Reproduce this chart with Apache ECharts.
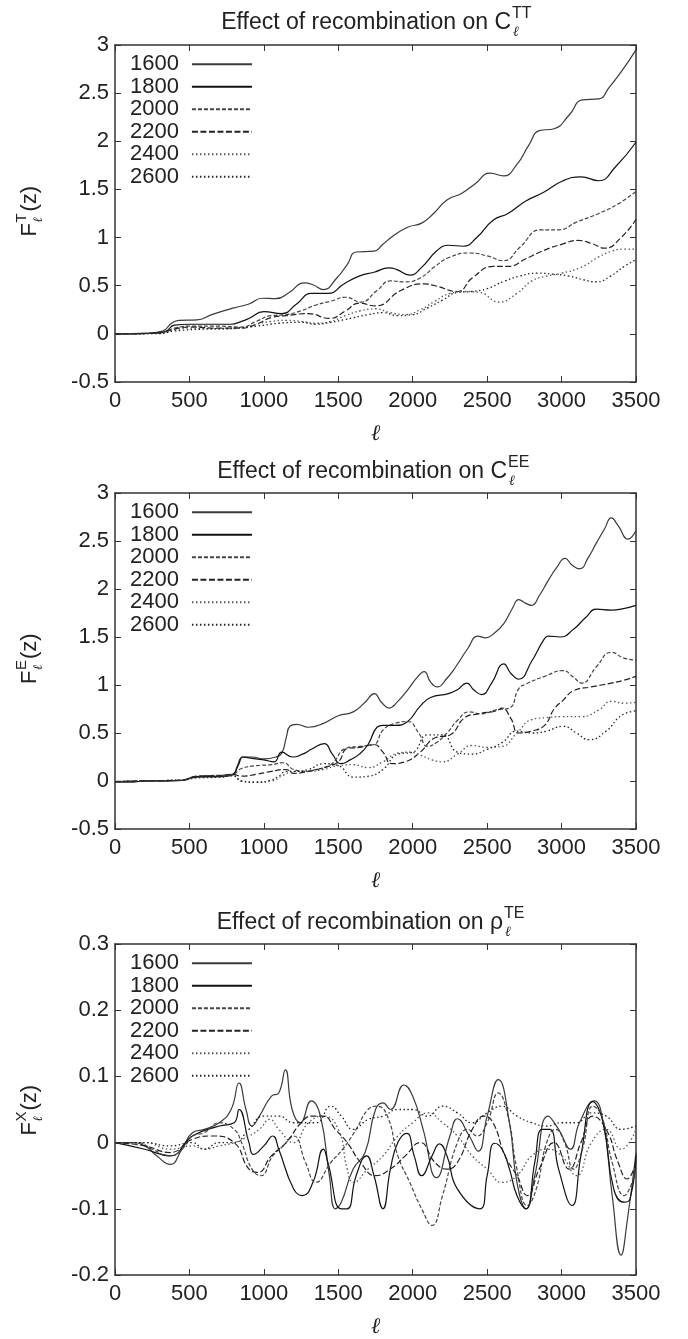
<!DOCTYPE html>
<html><head><meta charset="utf-8">
<script src="https://cdn.jsdelivr.net/npm/echarts@6/dist/echarts.min.js"></script>
<style>html,body{margin:0;padding:0;background:#fff}#c{width:688px;height:1339px}</style>
</head><body><div id="c"></div>
<script>
const NAMES = ['1600','1800','2000','2200','2400','2600'];
const X_MIN = 0, X_MAX = 3500, X_STEP = 500;

// Panel 1: C_l^TT
const TT_1600 = [[0,0],[200,0.005],[320,0.03],[380,0.11],[430,0.14],[550,0.145],[650,0.2],[800,0.27],[900,0.31],[990,0.37],[1080,0.365],[1170,0.43],[1270,0.53],[1330,0.51],[1400,0.46],[1490,0.58],[1560,0.72],[1620,0.85],[1740,0.86],[1800,0.93],[1870,1.02],[1970,1.11],[2060,1.15],[2140,1.25],[2230,1.39],[2330,1.46],[2420,1.56],[2520,1.67],[2610,1.64],[2700,1.76],[2780,1.96],[2850,2.11],[2950,2.13],[3050,2.27],[3140,2.43],[3250,2.44],[3320,2.56],[3400,2.72],[3500,2.95]];
const TT_1800 = [[0,0],[200,0.003],[330,0.02],[400,0.09],[500,0.1],[600,0.1],[780,0.1],[850,0.13],[900,0.16],[1000,0.23],[1120,0.21],[1220,0.31],[1320,0.42],[1430,0.42],[1540,0.52],[1640,0.6],[1740,0.64],[1840,0.685],[1890,0.67],[1980,0.61],[2060,0.69],[2160,0.86],[2240,0.92],[2340,0.91],[2430,1.0],[2540,1.18],[2640,1.25],[2760,1.38],[2880,1.47],[3010,1.59],[3130,1.63],[3250,1.59],[3360,1.73],[3500,1.99]];
const TT_2000 = [[0,0],[300,0.01],[400,0.06],[500,0.08],[700,0.08],[850,0.07],[950,0.13],[1050,0.19],[1150,0.2],[1250,0.24],[1350,0.3],[1450,0.34],[1550,0.38],[1650,0.33],[1760,0.45],[1850,0.55],[1950,0.54],[2050,0.58],[2150,0.7],[2240,0.79],[2380,0.84],[2500,0.81],[2610,0.76],[2720,0.9],[2860,1.08],[2980,1.08],[3100,1.16],[3250,1.25],[3380,1.35],[3500,1.48]];
const TT_2200 = [[0,0],[300,0.01],[400,0.05],[500,0.07],[700,0.06],[850,0.06],[950,0.1],[1050,0.17],[1150,0.19],[1300,0.21],[1440,0.16],[1550,0.24],[1640,0.32],[1750,0.29],[1920,0.45],[2070,0.52],[2150,0.5],[2300,0.44],[2400,0.58],[2540,0.7],[2640,0.7],[2760,0.78],[2886,0.87],[3000,0.93],[3110,0.97],[3200,0.94],[3290,0.89],[3400,1.0],[3500,1.19]];
const TT_2400 = [[0,0],[300,0.005],[400,0.04],[500,0.06],[700,0.05],[850,0.06],[950,0.1],[1050,0.13],[1150,0.14],[1250,0.13],[1350,0.11],[1450,0.13],[1550,0.19],[1650,0.24],[1750,0.26],[1850,0.22],[1950,0.2],[2050,0.25],[2150,0.34],[2250,0.42],[2350,0.44],[2450,0.43],[2580,0.33],[2700,0.42],[2800,0.55],[2900,0.6],[3000,0.63],[3130,0.69],[3250,0.8],[3340,0.86],[3420,0.88],[3500,0.88]];
const TT_2600 = [[0,0],[300,0.003],[400,0.03],[600,0.05],[800,0.06],[950,0.08],[1100,0.11],[1250,0.12],[1350,0.1],[1450,0.12],[1550,0.15],[1700,0.2],[1800,0.22],[1900,0.19],[2000,0.2],[2100,0.27],[2200,0.35],[2300,0.43],[2400,0.44],[2500,0.47],[2620,0.55],[2720,0.6],[2836,0.63],[2940,0.62],[3050,0.6],[3150,0.56],[3234,0.54],[3330,0.6],[3420,0.7],[3500,0.77]];

// Panel 2: C_l^EE
const EE_1600 = [[0,-0.01],[120,-0.01],[200,0],[350,0],[450,0.005],[550,0.04],[700,0.045],[790,0.06],[820,0.15],[858,0.25],[920,0.25],[1000,0.23],[1080,0.25],[1120,0.29],[1150,0.45],[1175,0.57],[1220,0.59],[1300,0.56],[1400,0.6],[1500,0.68],[1600,0.72],[1680,0.82],[1742,0.91],[1790,0.82],[1841,0.76],[1900,0.83],[1966,0.95],[2030,1.08],[2077,1.14],[2120,1.03],[2165,0.98],[2230,1.07],[2289,1.19],[2370,1.38],[2438,1.51],[2490,1.49],[2540,1.53],[2612,1.64],[2670,1.8],[2712,1.89],[2760,1.85],[2799,1.83],[2850,1.93],[2911,2.09],[2970,2.23],[3023,2.32],[3070,2.25],[3122,2.21],[3180,2.33],[3234,2.48],[3290,2.63],[3334,2.74],[3380,2.66],[3446,2.52],[3500,2.61]];
const EE_1800 = [[0,-0.01],[120,-0.01],[200,0],[350,0],[450,0.005],[550,0.045],[700,0.05],[790,0.07],[830,0.17],[858,0.25],[900,0.24],[1000,0.22],[1070,0.2],[1120,0.3],[1194,0.25],[1260,0.28],[1319,0.33],[1406,0.39],[1460,0.28],[1518,0.18],[1580,0.22],[1642,0.28],[1700,0.38],[1760,0.56],[1800,0.58],[1880,0.58],[1966,0.62],[2050,0.78],[2120,0.87],[2240,0.91],[2300,0.95],[2364,1.02],[2410,0.95],[2463,0.9],[2530,1.02],[2612,1.22],[2660,1.12],[2712,1.06],[2800,1.25],[2880,1.47],[2911,1.51],[2990,1.5],[3080,1.58],[3160,1.7],[3234,1.79],[3334,1.78],[3400,1.79],[3500,1.83]];
const EE_2000 = [[0,-0.005],[150,0],[350,0.005],[450,0.01],[550,0.05],[700,0.06],[790,0.07],[850,0.13],[950,0.16],[1050,0.17],[1130,0.19],[1200,0.12],[1280,0.1],[1350,0.12],[1450,0.17],[1550,0.34],[1640,0.36],[1740,0.38],[1800,0.53],[1880,0.6],[1966,0.62],[2040,0.5],[2100,0.36],[2160,0.4],[2230,0.5],[2300,0.63],[2380,0.72],[2460,0.7],[2560,0.74],[2650,0.76],[2712,0.96],[2760,1.01],[2886,1.09],[3010,1.15],[3080,1.08],[3135,1.02],[3234,1.19],[3334,1.34],[3420,1.28],[3500,1.26]];
const EE_2200 = [[0,-0.005],[150,0],[350,0.005],[450,0.01],[550,0.05],[700,0.055],[790,0.07],[850,0.05],[950,0.07],[1050,0.1],[1150,0.12],[1200,0.08],[1300,0.1],[1400,0.14],[1500,0.2],[1560,0.34],[1640,0.35],[1740,0.38],[1800,0.3],[1860,0.18],[1950,0.2],[2050,0.3],[2150,0.45],[2250,0.48],[2350,0.66],[2440,0.7],[2560,0.73],[2600,0.76],[2660,0.65],[2712,0.5],[2800,0.52],[2886,0.58],[2950,0.75],[3010,0.84],[3080,0.94],[3200,0.98],[3334,1.02],[3420,1.05],[3500,1.09]];
const EE_2400 = [[0,-0.01],[150,0],[350,0.005],[450,0.01],[550,0.03],[700,0.04],[790,0.06],[850,0.0],[950,-0.01],[1050,0.0],[1130,0.06],[1200,0.1],[1300,0.1],[1400,0.12],[1500,0.16],[1600,0.17],[1700,0.14],[1800,0.2],[1900,0.29],[1980,0.3],[2050,0.27],[2130,0.22],[2200,0.2],[2300,0.28],[2400,0.37],[2500,0.35],[2600,0.36],[2700,0.5],[2800,0.64],[2900,0.66],[3000,0.67],[3130,0.67],[3250,0.74],[3334,0.83],[3420,0.81],[3500,0.82]];
const EE_2600 = [[0,-0.01],[150,0],[350,0.005],[450,0.01],[550,0.04],[700,0.04],[790,0.055],[850,0.0],[950,-0.015],[1050,0.01],[1100,0.05],[1150,0.1],[1200,0.1],[1300,0.12],[1400,0.18],[1500,0.16],[1600,0.04],[1700,0.05],[1800,0.12],[1900,0.28],[2000,0.3],[2100,0.48],[2200,0.48],[2300,0.3],[2400,0.28],[2500,0.33],[2600,0.4],[2700,0.52],[2800,0.5],[2900,0.52],[3010,0.57],[3100,0.5],[3185,0.43],[3300,0.52],[3400,0.68],[3500,0.73]];

// Panel 3: rho_l^TE
const TE_1600 = [[0,0],[100,0],[200,-0.005],[280,-0.02],[370,-0.033],[450,-0.01],[520,0.015],[600,0.02],[700,0.03],[780,0.05],[833,0.09],[880,0.05],[920,0.025],[970,0.04],[1050,0.07],[1100,0.075],[1144,0.11],[1190,0.05],[1244,0.03],[1319,0.063],[1380,0.04],[1440,-0.05],[1480,-0.1],[1520,-0.09],[1600,-0.04],[1680,-0.015],[1750,0.05],[1800,0.06],[1850,0.05],[1941,0.087],[2000,0.07],[2070,0.02],[2160,-0.053],[2250,0.01],[2300,0.036],[2380,0.01],[2440,-0.013],[2500,0.04],[2575,0.095],[2650,0.03],[2700,-0.06],[2762,-0.1],[2820,-0.05],[2910,0.04],[2980,0.02],[3060,-0.01],[3120,0.03],[3220,0.063],[3280,0.03],[3340,-0.08],[3400,-0.17],[3440,-0.12],[3500,-0.015]];
const TE_1800 = [[0,0],[200,-0.01],[370,-0.02],[520,0.01],[700,0.025],[800,0.03],[833,0.05],[900,0.0],[930,-0.018],[1000,-0.005],[1060,0.01],[1100,-0.01],[1200,-0.07],[1260,-0.08],[1330,-0.06],[1400,-0.01],[1430,-0.03],[1520,-0.1],[1560,-0.1],[1620,-0.05],[1690,-0.02],[1740,-0.05],[1800,-0.1],[1850,-0.04],[1900,0.0],[1960,0.014],[2010,-0.02],[2060,-0.05],[2130,-0.02],[2180,-0.002],[2230,-0.02],[2300,-0.07],[2450,-0.1],[2500,-0.05],[2550,-0.001],[2600,-0.01],[2650,-0.04],[2700,-0.08],[2760,-0.1],[2820,-0.03],[2870,0.02],[2920,0.02],[2980,-0.04],[3070,-0.095],[3130,-0.02],[3210,0.062],[3280,0.03],[3350,-0.07],[3420,-0.09],[3460,-0.085],[3500,-0.02]];
const TE_2000 = [[0,0],[150,0],[250,-0.01],[370,-0.02],[450,-0.01],[520,0.01],[600,0.015],[700,0.03],[800,0.02],[850,0.0],[920,-0.04],[980,-0.05],[1060,-0.02],[1130,-0.005],[1200,0.01],[1280,-0.03],[1350,-0.06],[1450,-0.03],[1530,-0.01],[1620,0.02],[1700,0.05],[1760,0.055],[1830,0.04],[1900,-0.02],[1980,-0.06],[2060,-0.1],[2130,-0.125],[2200,-0.08],[2300,0.0],[2370,0.02],[2430,0.01],[2500,0.03],[2575,0.075],[2640,0.04],[2700,-0.04],[2770,-0.095],[2830,-0.07],[2900,0.0],[2960,0.02],[3020,0.0],[3080,-0.04],[3140,-0.01],[3210,0.055],[3270,0.04],[3340,-0.03],[3420,-0.08],[3500,-0.04]];
const TE_2200 = [[0,0],[200,-0.005],[370,-0.015],[520,0.005],[650,0.01],[800,0.0],[900,-0.04],[960,-0.045],[1050,-0.02],[1150,0.0],[1250,0.03],[1320,0.04],[1400,0.04],[1480,0.02],[1560,0.0],[1650,-0.03],[1750,-0.05],[1850,-0.04],[1950,-0.02],[2050,0.0],[2150,-0.03],[2230,-0.04],[2300,-0.03],[2400,0.02],[2480,0.04],[2540,0.03],[2620,-0.02],[2700,-0.05],[2770,-0.08],[2850,-0.04],[2950,0.0],[3050,-0.04],[3130,0.0],[3210,0.04],[3300,0.02],[3380,-0.03],[3440,-0.055],[3500,-0.03]];
const TE_2400 = [[0,0],[200,0],[370,-0.01],[520,-0.005],[600,-0.01],[700,-0.005],[800,0.0],[900,0.01],[970,0.02],[1040,0.035],[1100,0.02],[1200,0.0],[1300,0.03],[1400,0.04],[1500,0.02],[1560,-0.04],[1600,-0.06],[1700,-0.04],[1800,-0.02],[1900,0.01],[2000,0.03],[2100,0.045],[2200,0.03],[2300,0.01],[2400,-0.02],[2500,-0.04],[2600,-0.06],[2700,-0.05],[2800,-0.02],[2900,-0.01],[3000,-0.02],[3100,-0.05],[3200,0.0],[3300,0.02],[3400,-0.01],[3500,0.02]];
const TE_2600 = [[0,0],[200,0],[370,-0.005],[520,0.0],[600,-0.01],[700,0.0],[800,0.0],[900,0.02],[1000,0.04],[1100,0.04],[1200,0.03],[1350,0.03],[1450,0.055],[1520,0.04],[1600,0.02],[1700,0.035],[1800,0.04],[1900,0.05],[2000,0.05],[2100,0.04],[2200,0.055],[2300,0.045],[2400,0.03],[2500,0.045],[2600,0.055],[2700,0.04],[2800,0.03],[2900,0.025],[3000,0.03],[3100,0.03],[3200,0.045],[3300,0.04],[3400,0.02],[3500,0.025]];

const PANEL_DATA = [
  [TT_1600, TT_1800, TT_2000, TT_2200, TT_2400, TT_2600],
  [EE_1600, EE_1800, EE_2000, EE_2200, EE_2400, EE_2600],
  [TE_1600, TE_1800, TE_2000, TE_2200, TE_2400, TE_2600]
];
const Y_RANGES = [[-0.5, 3, 0.5], [-0.5, 3, 0.5], [-0.2, 0.3, 0.1]];

// ---- layout / style (not data) ----
const FONT = '"Liberation Sans", Arial, Helvetica, sans-serif';
const GRIDS = [{top:45,height:337},{top:493,height:336},{top:944,height:337}];
const LEFT = 115, WIDTH = 521;
const LINE_STYLES = [
  {color:'#3a3a3a', type:'solid', width:1.2},
  {color:'#111', type:'solid', width:1.2},
  {color:'#444', type:[4,2], width:1.2},
  {color:'#222', type:[6,2.5], width:1.2},
  {color:'#555', type:[1.5,2.5], width:1.3},
  {color:'#222', type:[1.5,2.5], width:1.3}
];
const AX = '#333';

const grid = GRIDS.map(g => ({left: LEFT, top: g.top, width: WIDTH, height: g.height}));
const xAxis = [], yAxis = [];
GRIDS.forEach((g, i) => {
  const base = {gridIndex:i, type:'value', min:X_MIN, max:X_MAX, interval:X_STEP,
    axisLine:{show:true, onZero:false, lineStyle:{color:AX, width:1.5}},
    axisTick:{show:true, inside:true, length:6, lineStyle:{color:AX, width:1}},
    splitLine:{show:false}};
  xAxis.push(Object.assign({}, base, {position:'bottom',
    axisLabel:{fontSize:22, color:'#222', margin:8, fontFamily:FONT, showMinLabel:true, showMaxLabel:true,
      formatter: v => String(v)},
    name:'\u2113', nameLocation:'middle', nameGap:41,
    nameTextStyle:{fontSize:22, color:'#222', fontFamily:'"DejaVu Serif", serif', fontStyle:'italic'}}));
  xAxis.push(Object.assign({}, base, {position:'top', axisLabel:{show:false}}));
  const [mn, mx, st] = Y_RANGES[i];
  const ybase = {gridIndex:i, type:'value', min:mn, max:mx, interval:st,
    axisLine:{show:true, onZero:false, lineStyle:{color:AX, width:1.5}},
    axisTick:{show:true, inside:true, length:6, lineStyle:{color:AX, width:1}},
    splitLine:{show:false}};
  yAxis.push(Object.assign({}, ybase, {position:'left',
    axisLabel:{fontSize:22, color:'#222', margin:6, fontFamily:FONT, showMinLabel:true, showMaxLabel:true,
      formatter: v => String(Math.round(v*10)/10)}}));
  yAxis.push(Object.assign({}, ybase, {position:'right', axisLabel:{show:false}}));
});

const series = [];
PANEL_DATA.forEach((arrs, i) => {
  arrs.forEach((d, k) => {
    series.push({type:'line', name:NAMES[k], xAxisIndex:2*i, yAxisIndex:2*i, data:d,
      symbol:'none', showSymbol:false, smooth:0.5, silent:true,
      lineStyle:LINE_STYLES[k], itemStyle:{color:LINE_STYLES[k].color}, z:2});
  });
});

const legend = GRIDS.map((g, i) => ({
  data: NAMES, orient:'vertical', left:125, top:g.top + 3, align:'right',
  itemWidth:60, itemHeight:10, itemGap:0, selectedMode:false,
  itemStyle:{opacity:0, borderWidth:0},
  textStyle:{fontSize:22, color:'#222', fontFamily:FONT, lineHeight:22.5, padding:[0,8,0,0]}
}));

// titles and y-axis names (text only)
const TITLE_Y = [23, 472, 923];
const TITLE_BASE = ['Effect of recombination on C','Effect of recombination on C','Effect of recombination on \u03c1'];
const TITLE_SUP = ['TT','EE','TE'];
const TITLE_R = [511, 507, 503];
const YNAME_SUP = ['T','E','X'];
const graphic = [];
GRIDS.forEach((g, i) => {
  const ty = TITLE_Y[i], r = TITLE_R[i];
  graphic.push({type:'text', x:r, y:ty, style:{text:TITLE_BASE[i], fontSize:23, fontFamily:FONT, fill:'#222', align:'right', verticalAlign:'middle'}});
  graphic.push({type:'text', x:r+1, y:ty-9, style:{text:TITLE_SUP[i], fontSize:16, fontFamily:FONT, fill:'#222', align:'left', verticalAlign:'middle'}});
  graphic.push({type:'text', x:r+2, y:ty+9, style:{text:'\u2113', fontSize:14, fontFamily:'"DejaVu Serif", serif', fontStyle:'italic', fill:'#222', align:'left', verticalAlign:'middle'}});
  const cy = g.top + g.height/2;
  graphic.push({type:'group', x:30, y:cy, rotation:Math.PI/2, children:[
    {type:'text', x:-23, y:0, style:{text:'F', fontSize:22, fontFamily:FONT, fill:'#222', align:'left', verticalAlign:'middle'}},
    {type:'text', x:-9, y:-8, style:{text:YNAME_SUP[i], fontSize:15, fontFamily:FONT, fill:'#222', align:'left', verticalAlign:'middle'}},
    {type:'text', x:-9, y:9, style:{text:'\u2113', fontSize:13, fontFamily:'"DejaVu Serif", serif', fontStyle:'italic', fill:'#222', align:'left', verticalAlign:'middle'}},
    {type:'text', x:2, y:0, style:{text:'(z)', fontSize:22, fontFamily:FONT, fill:'#222', align:'left', verticalAlign:'middle'}}
  ]});
});

const chart = echarts.init(document.getElementById('c'), null, {renderer:'canvas'});
chart.setOption({animation:false, backgroundColor:'#fff', grid, xAxis, yAxis, series, legend, graphic});
</script></body></html>
